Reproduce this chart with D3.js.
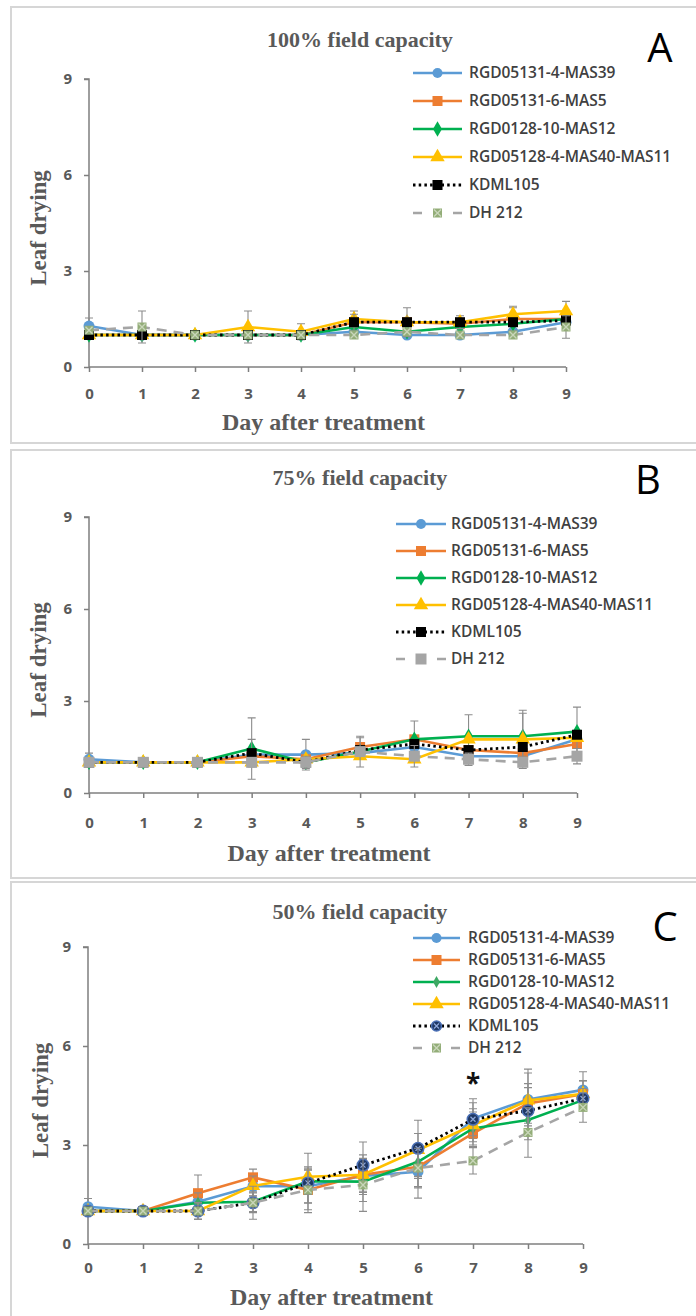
<!DOCTYPE html>
<html>
<head>
<meta charset="utf-8">
<script src="https://cdn.jsdelivr.net/npm/d3@7"></script>
<style>
  html, body { margin: 0; padding: 0; background: #fff; }
  svg { display: block; }
</style>
</head>
<body>
<svg id="chart" width="696" height="1316"></svg>
<script>
// ---- data ----
const days = [0, 1, 2, 3, 4, 5, 6, 7, 8, 9];
const yTicks = [0, 3, 6, 9];
const seriesNames = ['RGD05131-4-MAS39', 'RGD05131-6-MAS5', 'RGD0128-10-MAS12',
  'RGD05128-4-MAS40-MAS11', 'KDML105', 'DH 212'];
const panelTitles = ['100% field capacity', '75% field capacity', '50% field capacity'];
const panelLetters = ['A', 'B', 'C'];

// 100% field capacity
const a_mas39 = [1.28, 1.0, 1.0, 1.0, 1.0, 1.1, 1.0, 1.0, 1.1, 1.4];
const a_mas5 = [1.0, 1.0, 1.0, 1.0, 1.0, 1.4, 1.4, 1.35, 1.5, 1.5];
const a_mas12 = [1.0, 1.0, 1.0, 1.0, 1.0, 1.25, 1.1, 1.25, 1.35, 1.5];
const a_mas11 = [1.0, 1.0, 1.0, 1.25, 1.1, 1.5, 1.4, 1.4, 1.65, 1.75];
const a_kdml = [1.0, 1.0, 1.0, 1.0, 1.0, 1.4, 1.4, 1.4, 1.4, 1.45];
const a_dh = [1.15, 1.25, 1.0, 1.0, 1.0, 1.0, 1.1, 1.0, 1.0, 1.25];
const a_mas39_sd = [0.25, 0, 0, 0, 0, 0, 0, 0, 0, 0];
const a_mas5_sd = [0, 0, 0, 0, 0, 0, 0, 0, 0.35, 0];
const a_mas12_sd = [0, 0, 0, 0, 0, 0, 0, 0, 0, 0];
const a_mas11_sd = [0, 0, 0, 0.5, 0.25, 0.25, 0, 0.2, 0.25, 0.3];
const a_kdml_sd = [0, 0, 0, 0, 0, 0.25, 0.45, 0, 0, 0];
const a_dh_sd = [0, 0.5, 0, 0, 0, 0, 0, 0, 0, 0.35];

// 75% field capacity
const b_mas39 = [1.1, 1.0, 1.0, 1.25, 1.25, 1.3, 1.5, 1.2, 1.2, 1.75];
const b_mas5 = [1.0, 1.0, 1.0, 1.2, 1.1, 1.5, 1.75, 1.4, 1.3, 1.6];
const b_mas12 = [1.0, 1.0, 1.0, 1.45, 1.0, 1.35, 1.75, 1.85, 1.85, 2.0];
const b_mas11 = [1.0, 1.0, 1.0, 1.0, 1.1, 1.2, 1.1, 1.75, 1.75, 1.8];
const b_kdml = [1.0, 1.0, 1.0, 1.3, 1.0, 1.4, 1.6, 1.4, 1.5, 1.9];
const b_dh = [1.0, 1.0, 1.0, 1.0, 1.0, 1.35, 1.2, 1.1, 1.0, 1.2];
const b_mas39_sd = [0.2, 0, 0, 0, 0.5, 0, 0, 0, 0, 0];
const b_mas5_sd = [0, 0, 0, 0, 0, 0.3, 0.6, 0, 0, 0];
const b_mas12_sd = [0, 0, 0, 1.0, 0, 0, 0, 0.7, 0.85, 0.8];
const b_mas11_sd = [0, 0, 0, 0, 0, 0, 0, 0, 0.85, 0];
const b_kdml_sd = [0, 0, 0, 0.45, 0, 0, 0, 0, 0, 0];
const b_dh_sd = [0, 0, 0, 0, 0.2, 0.5, 0.35, 0.2, 0.2, 0.25];

// 50% field capacity
const c_mas39 = [1.13, 1.0, 1.28, 1.75, 1.75, 2.06, 2.19, 3.8, 4.38, 4.67];
const c_mas5 = [1.0, 1.0, 1.54, 2.02, 1.64, 2.1, 2.34, 3.35, 4.26, 4.54];
const c_mas12 = [1.0, 1.0, 1.25, 1.28, 1.9, 1.89, 2.49, 3.5, 3.76, 4.36];
const c_mas11 = [1.0, 1.0, 1.0, 1.76, 2.04, 2.1, 2.85, 3.6, 4.35, 4.55];
const c_kdml = [1.0, 1.0, 1.0, 1.25, 1.85, 2.39, 2.9, 3.78, 4.04, 4.41];
const c_dh = [1.0, 1.0, 1.0, 1.25, 1.64, 1.79, 2.3, 2.52, 3.38, 4.14];
const c_mas39_sd = [0.25, 0, 0.3, 0.3, 0.5, 0.5, 0.8, 0.6, 0.8, 0.55];
const c_mas5_sd = [0, 0, 0.55, 0.25, 0.4, 0.6, 0.6, 0.4, 0.6, 0.4];
const c_mas12_sd = [0, 0, 0.3, 0.3, 0.4, 0.6, 0.5, 0.5, 0.6, 0.3];
const c_mas11_sd = [0, 0, 0.25, 0.3, 0.3, 0.5, 0.5, 0.5, 0.95, 0.4];
const c_kdml_sd = [0, 0, 0.25, 0.3, 0.9, 0.7, 0.85, 0.5, 0.7, 0.3];
const c_dh_sd = [0, 0, 0.25, 0.5, 0.6, 0.8, 0.6, 0.4, 0.75, 0.45];

const starDay = 7;
const starValue = 5.0;

// ---- layout ----
const panels = [
  { box: [11, 7, 700, 443], x: [89, 566], y: [367, 79], title: 40, letter: [660, 62],
    leg: { x0: 413, x1: 462, tx: 469, top: 73, step: 28 }, xl: 394, xt: 430, yl: 46,
    means: [a_mas39, a_mas5, a_mas12, a_mas11, a_kdml, a_dh],
    sds: [a_mas39_sd, a_mas5_sd, a_mas12_sd, a_mas11_sd, a_kdml_sd, a_dh_sd], kind: 'a' },
  { box: [11, 450, 700, 878], x: [89, 577], y: [793, 517], title: 478, letter: [648, 494],
    leg: { x0: 396, x1: 446, tx: 451, top: 524, step: 27 }, xl: 823, xt: 861, yl: 46,
    means: [b_mas39, b_mas5, b_mas12, b_mas11, b_kdml, b_dh],
    sds: [b_mas39_sd, b_mas5_sd, b_mas12_sd, b_mas11_sd, b_kdml_sd, b_dh_sd], kind: 'b' },
  { box: [11, 882, 700, 1330], x: [88, 583], y: [1244, 947], title: 912, letter: [665, 941],
    leg: { x0: 413, x1: 460, tx: 468, top: 938, step: 22 }, xl: 1268, xt: 1305, yl: 48,
    means: [c_mas39, c_mas5, c_mas12, c_mas11, c_kdml, c_dh],
    sds: [c_mas39_sd, c_mas5_sd, c_mas12_sd, c_mas11_sd, c_kdml_sd, c_dh_sd], kind: 'c' },
];

const colors = ['#5B9BD5', '#ED7D31', '#00B050', '#FFC000', '#000000', '#A5A5A5'];
const GREY_TXT = '#595959';
const SERIF = '"Liberation Serif", "DejaVu Serif", serif';
const SANS = '"Open Sans", "Liberation Sans", sans-serif';

const svg = d3.select('#chart');

function drawMarker(g, i, kind, cx, cy, small) {
  const m = g.append('g').attr('transform', `translate(${cx},${cy})`);
  if (i === 0) {
    m.append('circle').attr('r', small ? 5 : 5.5).attr('fill', colors[0]);
  } else if (i === 1) {
    m.append('rect').attr('x', -5).attr('y', -5).attr('width', 10).attr('height', 10).attr('fill', colors[1]);
  } else if (i === 2) {
    const s = kind === 'c' ? 40 : 70;
    m.append('path').attr('d', d3.symbol(d3.symbolDiamond, s)()).attr('fill', kind === 'c' ? '#3DA863' : colors[2]);
  } else if (i === 3) {
    m.append('path').attr('d', d3.symbol(d3.symbolTriangle, 90)()).attr('fill', colors[3]);
  } else if (i === 4) {
    if (kind === 'c') {
      const r = small ? 5 : 5.8;
      m.append('circle').attr('r', r).attr('fill', '#1F3864').attr('stroke', '#4A6FB5').attr('stroke-width', 1.5);
      m.append('path').attr('d', 'M-2.5,-2.5L2.5,2.5M-2.5,2.5L2.5,-2.5').attr('stroke', '#8FA9DC').attr('stroke-width', 1.2);
    } else {
      m.append('rect').attr('x', -5).attr('y', -5).attr('width', 10).attr('height', 10).attr('fill', '#000');
    }
  } else {
    if (kind === 'b') {
      m.append('rect').attr('x', -5.5).attr('y', -5.5).attr('width', 11).attr('height', 11).attr('fill', '#A5A5A5');
    } else {
      m.append('rect').attr('x', -4.5).attr('y', -4.5).attr('width', 9).attr('height', 9).attr('fill', '#93AD78');
      m.append('path').attr('d', 'M-3.5,-3.5L3.5,3.5M-3.5,3.5L3.5,-3.5').attr('stroke', '#C9D6BA').attr('stroke-width', 1.4);
    }
  }
}

function lineStyle(sel, i) {
  sel.attr('fill', 'none').attr('stroke', colors[i]).attr('stroke-width', 2.6);
  if (i === 4) sel.attr('stroke-width', 2.8).attr('stroke-dasharray', '2.5 3.2');
  if (i === 5) sel.attr('stroke-dasharray', '10 7');
  return sel;
}

panels.forEach((p, pi) => {
  const [bx0, by0, bx1, by1] = p.box;
  svg.append('rect')
    .attr('x', bx0).attr('y', by0).attr('width', bx1 - bx0).attr('height', by1 - by0)
    .attr('fill', '#fff').attr('stroke', '#d6d6d6').attr('stroke-width', 2);

  const x = d3.scaleLinear().domain([0, 9]).range(p.x);
  const y = d3.scaleLinear().domain([0, 9]).range(p.y);
  const g = svg.append('g');

  // axes
  g.append('g')
    .attr('transform', `translate(${p.x[0]},0)`)
    .call(d3.axisLeft(y).tickValues(yTicks).tickSize(5).tickPadding(12).tickFormat(d3.format('d')))
    .call(ax => ax.selectAll('path,line').attr('stroke', '#7f7f7f').attr('stroke-width', 1.5))
    .call(ax => ax.select('.domain').attr('d', `M-5,${p.y[1]}H0V${p.y[0]}`))
    .call(ax => ax.selectAll('text').attr('fill', GREY_TXT).attr('font-family', SANS)
      .attr('font-weight', 700).attr('font-size', 15));

  g.append('g')
    .attr('transform', `translate(0,${p.y[0]})`)
    .call(d3.axisBottom(x).tickValues(days).tickSize(5).tickPadding(8).tickFormat(d3.format('d')))
    .call(ax => ax.selectAll('path,line').attr('stroke', '#7f7f7f').attr('stroke-width', 1.5))
    .call(ax => ax.select('.domain').attr('d', `M${p.x[0]},0H${p.x[1]}`))
    .call(ax => ax.selectAll('text').attr('fill', GREY_TXT).attr('font-family', SANS)
      .attr('font-weight', 700).attr('font-size', 15).attr('y', 0).attr('dy', 0)
      .attr('transform', `translate(0,${p.xl - p.y[0] + 5})`));

  // titles
  svg.append('text').attr('x', 360).attr('y', p.title + 7).attr('text-anchor', 'middle')
    .attr('font-family', SERIF).attr('font-weight', 700).attr('font-size', 22)
    .attr('fill', GREY_TXT).text(panelTitles[pi]);
  svg.append('text').attr('x', (p.x[0] + p.x[1]) / 2 - 4).attr('y', p.xt)
    .attr('text-anchor', 'middle').attr('font-family', SERIF).attr('font-weight', 700)
    .attr('font-size', 24).attr('fill', GREY_TXT).text('Day after treatment');
  svg.append('text')
    .attr('transform', `translate(${p.yl},${(p.y[0] + p.y[1]) / 2 + 5}) rotate(-90)`)
    .attr('text-anchor', 'middle').attr('font-family', SERIF).attr('font-weight', 700)
    .attr('font-size', 23).attr('fill', GREY_TXT).text('Leaf drying');
  svg.append('text').attr('x', p.letter[0]).attr('y', p.letter[1]).attr('text-anchor', 'middle')
    .attr('font-family', SANS).attr('font-size', 40).attr('fill', '#000').text(panelLetters[pi]);

  // series: error bars, line, markers
  const line = d3.line().x((d, i) => x(days[i])).y(d => y(d));
  p.means.forEach((vals, si) => {
    const sg = g.append('g');
    const sd = p.sds[si];
    days.forEach((d, k) => {
      if (!sd[k]) return;
      const cx = x(d), top = y(vals[k] + sd[k]), bot = y(vals[k] - sd[k]);
      sg.append('path')
        .attr('d', `M${cx},${top}V${bot}M${cx - 4},${top}H${cx + 4}M${cx - 4},${bot}H${cx + 4}`)
        .attr('stroke', '#8c8c8c').attr('stroke-width', 1.1).attr('fill', 'none');
    });
    lineStyle(sg.append('path').attr('d', line(vals)), si);
    days.forEach((d, k) => drawMarker(sg, si, p.kind, x(d), y(vals[k])));
  });

  if (p.kind === 'c') {
    svg.append('text').attr('x', x(starDay)).attr('y', y(starValue) + 14)
      .attr('text-anchor', 'middle').attr('font-family', SANS).attr('font-weight', 700)
      .attr('font-size', 26).attr('fill', '#111').text('*');
  }

  // legend
  const L = p.leg;
  seriesNames.forEach((name, si) => {
    const ly = L.top + si * L.step;
    const lg = svg.append('g');
    if (si < 5) {
      lineStyle(lg.append('path').attr('d', `M${L.x0},${ly}H${L.x1}`), si);
    } else {
      lg.append('path').attr('d', `M${L.x0},${ly}H${L.x0 + 9}M${L.x1 - 9},${ly}H${L.x1}`)
        .attr('stroke', colors[5]).attr('stroke-width', 2.6);
    }
    drawMarker(lg, si, p.kind, (L.x0 + L.x1) / 2, ly, true);
    lg.append('text').attr('x', L.tx).attr('y', ly + 5)
      .attr('font-family', SANS).attr('font-weight', 600).attr('font-size', 15.5)
      .attr('fill', '#404040').text(name);
  });
});
</script>
</body>
</html>
